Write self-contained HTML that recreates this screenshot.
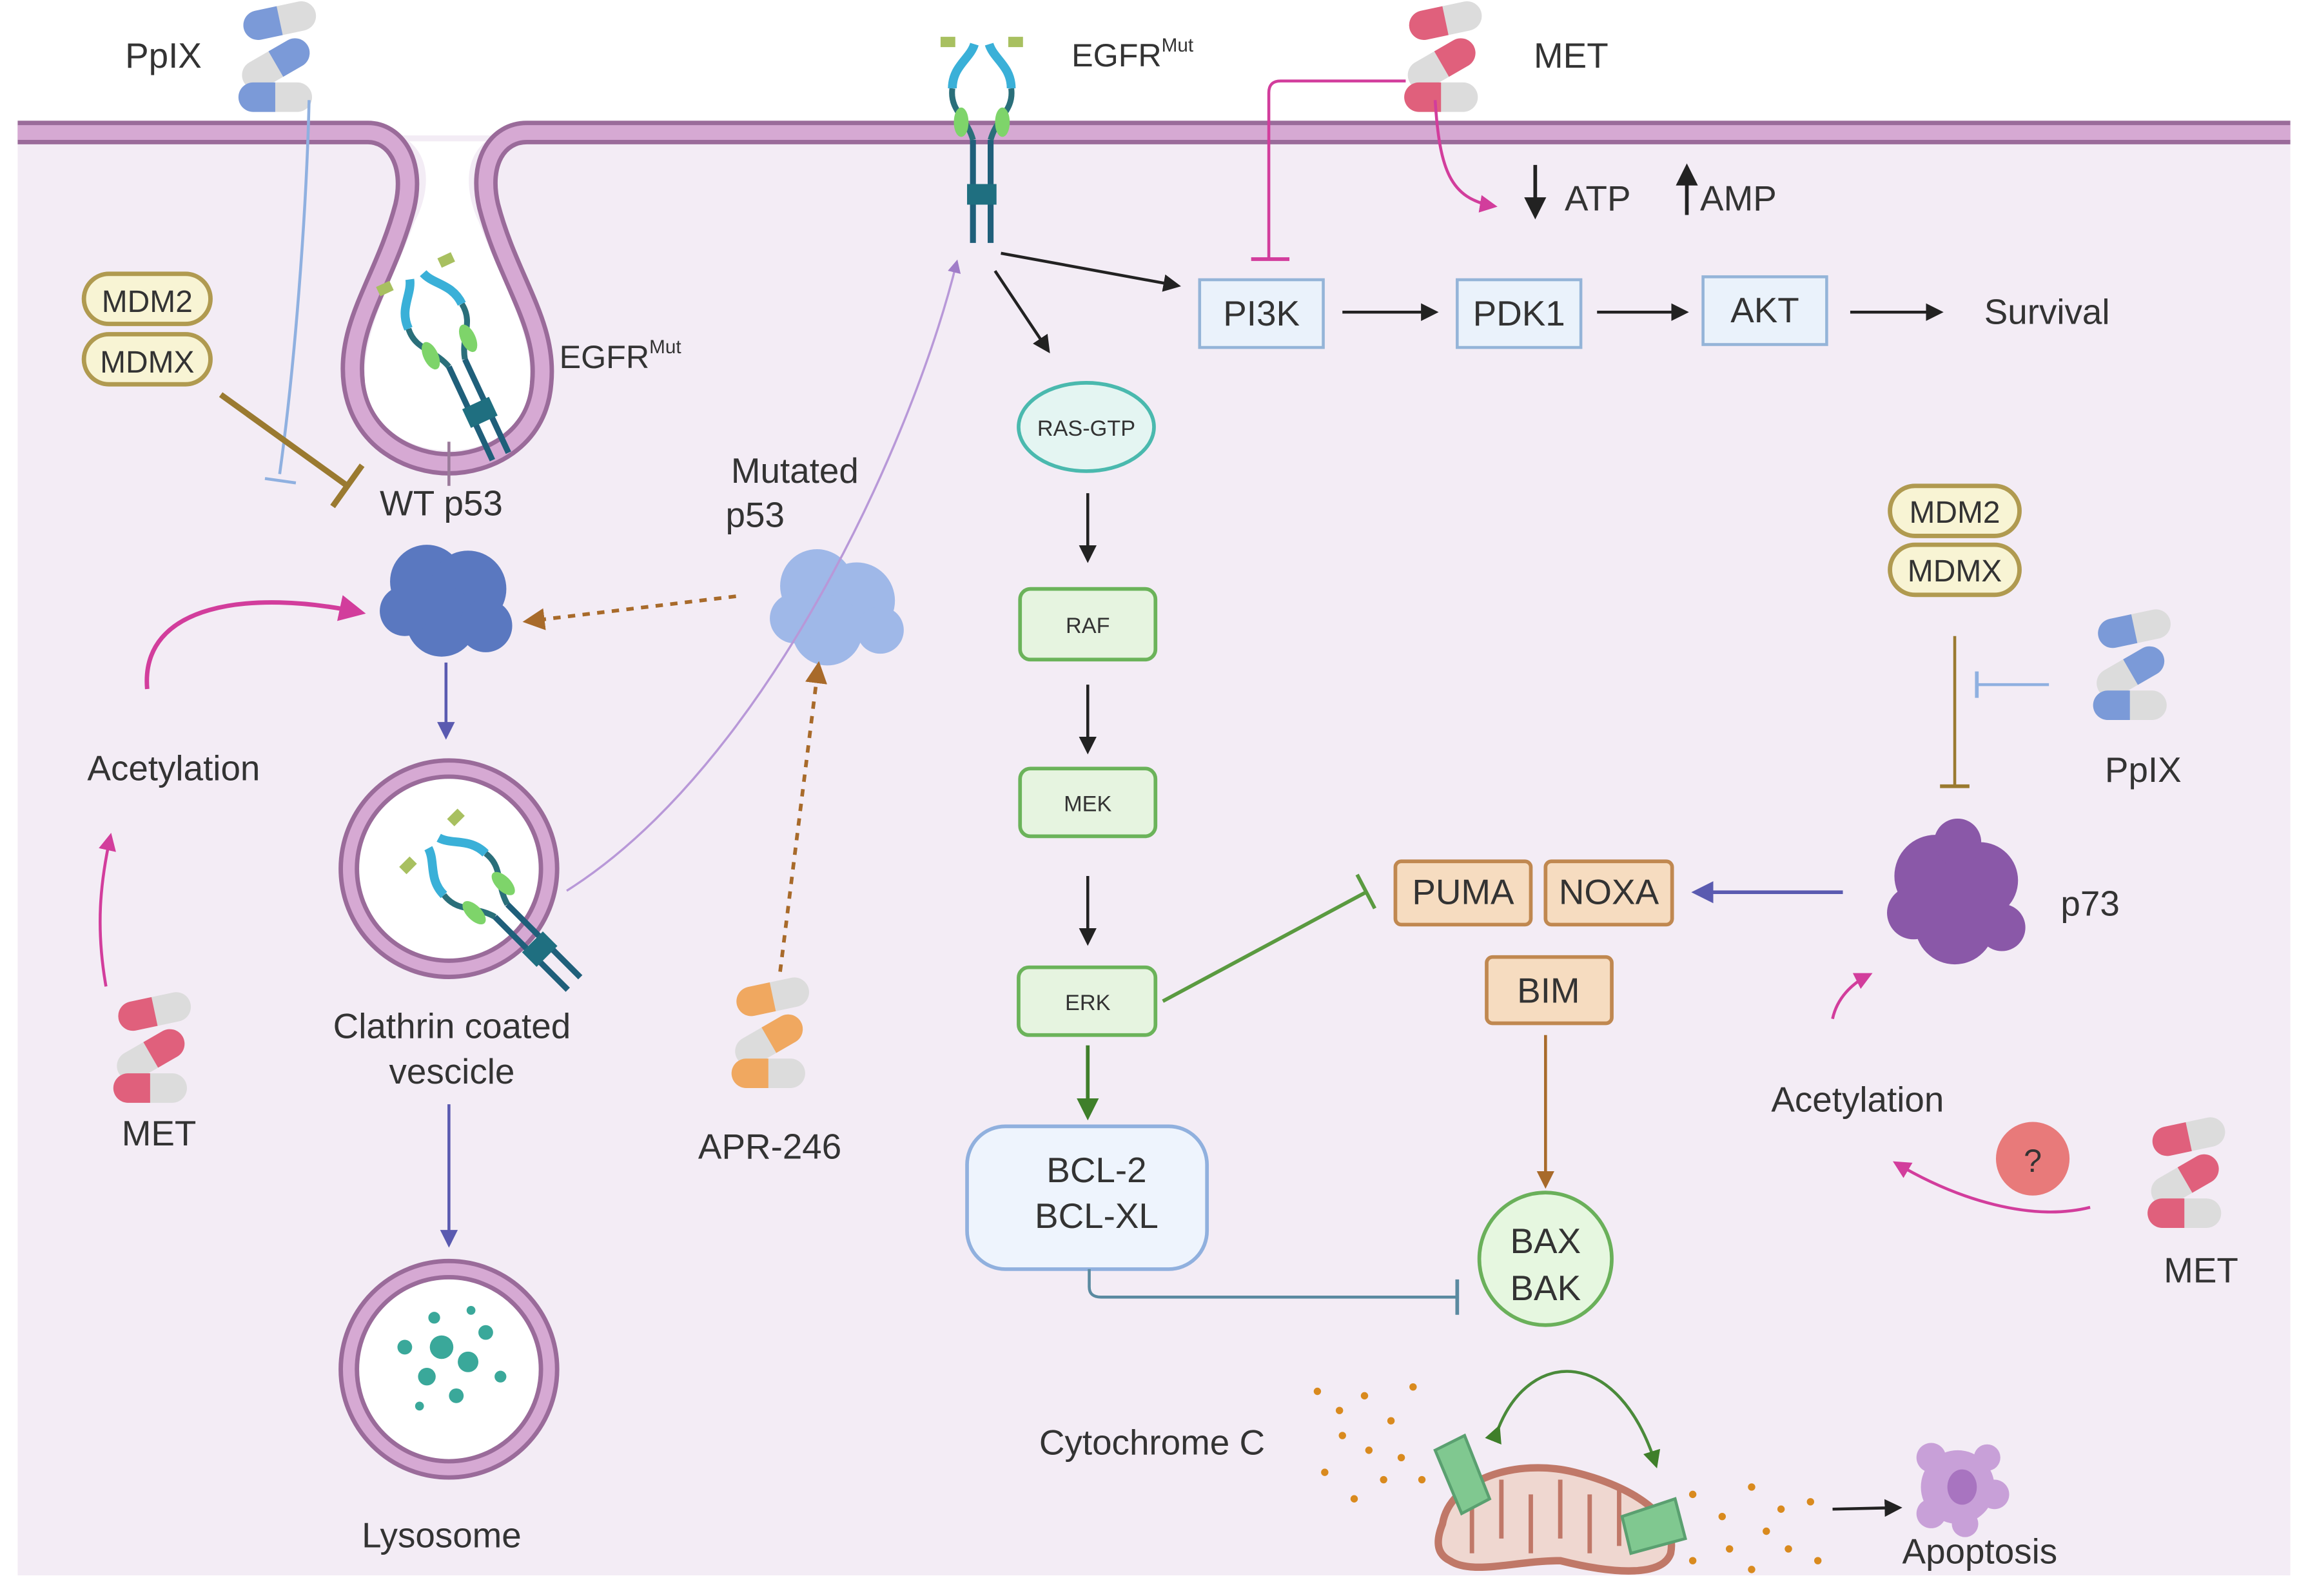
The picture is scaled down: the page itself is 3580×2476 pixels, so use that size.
<!DOCTYPE html>
<html><head><meta charset="utf-8"><style>
html,body{margin:0;padding:0;background:#fff}
svg{display:block}
text{font-family:"Liberation Sans",sans-serif;fill:#333}
</style></head><body>
<svg width="3580" height="2476" viewBox="0 0 1568 1084" preserveAspectRatio="none" xmlns="http://www.w3.org/2000/svg">
<defs>
<marker id="ak" viewBox="0 0 10 10" refX="8" refY="5" markerWidth="6" markerHeight="6" orient="auto"><path d="M0,0L10,5L0,10z" fill="#222"/></marker>
<marker id="ap" viewBox="0 0 10 10" refX="8" refY="5" markerWidth="6" markerHeight="6" orient="auto"><path d="M0,0L10,5L0,10z" fill="#d23d9c"/></marker>
<marker id="ab" viewBox="0 0 10 10" refX="8" refY="5" markerWidth="6" markerHeight="6" orient="auto"><path d="M0,0L10,5L0,10z" fill="#5a5ab0"/></marker>
<marker id="ag" viewBox="0 0 10 10" refX="8" refY="5" markerWidth="6" markerHeight="6" orient="auto"><path d="M0,0L10,5L0,10z" fill="#3f7f2a"/></marker>
<marker id="ao" viewBox="0 0 10 10" refX="8" refY="5" markerWidth="6" markerHeight="6" orient="auto"><path d="M0,0L10,5L0,10z" fill="#a86a2a"/></marker>
<marker id="av" viewBox="0 0 10 10" refX="8" refY="5" markerWidth="6" markerHeight="6" orient="auto"><path d="M0,0L10,5L0,10z" fill="#a07cc8"/></marker>
<symbol id="cap" viewBox="0 0 50 20" overflow="visible">
<rect x="0" y="0" width="50" height="20" rx="10" fill="#dcdcdc"/>
<path d="M10,0H25V20H10A10,10 0 0 1 10,0z" fill="currentColor"/>
</symbol>
<g id="pills">
<use href="#cap" x="-25" y="-38" width="50" height="20" transform="rotate(-12 0 -28)"/>
<use href="#cap" x="-22" y="-10" width="50" height="20" transform="rotate(-30 0 0) scale(-1 1)" />
<use href="#cap" x="-28" y="14" width="50" height="20"/>
</g>
<g id="receptor">
<path d="M-6,0V-70M6,0V-70" stroke="#1f5f7a" stroke-width="4" fill="none"/>
<rect x="-10" y="-40" width="20" height="14" fill="#1f6f80"/>
<path d="M-6,-70C-10,-85 -22,-90 -20,-105M6,-70C10,-85 22,-90 20,-105" stroke="#2a6f7a" stroke-width="4" fill="none"/>
<ellipse cx="-14" cy="-82" rx="5" ry="10" fill="#7ed46a"/><ellipse cx="14" cy="-82" rx="5" ry="10" fill="#7ed46a"/>
<path d="M-20,-105C-20,-120 -8,-125 -5,-135M20,-105C20,-120 8,-125 5,-135" stroke="#3ab0d8" stroke-width="6" fill="none"/>
<rect x="-28" y="-140" width="10" height="7" fill="#a8c060"/><rect x="18" y="-140" width="10" height="7" fill="#a8c060"/>
</g>
</defs>
<rect width="1568" height="1084" fill="#fff"/>
<!-- cell -->
<rect x="12" y="92" width="1544" height="978" fill="#f3ecf5"/>
<!-- membrane -->
<path d="M12,90H250C268,90 282,110 275,140C262,190 235,220 240,260C245,300 280,315 305,315C330,315 365,300 368,260C372,220 345,190 332,140C325,110 338,90 358,90H1556" fill="none" stroke="#9a6b9a" stroke-width="16"/>
<path d="M12,90H250C268,90 282,110 275,140C262,190 235,220 240,260C245,300 280,315 305,315C330,315 365,300 368,260C372,220 345,190 332,140C325,110 338,90 358,90H1556" fill="none" stroke="#d6a9d3" stroke-width="10"/>
<path d="M278,96C295,110 290,135 282,150C265,195 246,225 248,260C252,292 280,306 305,306C330,306 358,292 360,260C362,225 342,195 325,150C318,135 313,110 330,96z" fill="#fff"/>
<!-- top left -->
<text x="85" y="46" font-size="24">PpIX</text>
<use href="#pills" x="190" y="42" color="#7b9ad8"/>
<path d="M210,68C208,150 200,250 190,322" stroke="#8fb0e0" stroke-width="2" fill="none"/>
<path d="M180,325L201,328" stroke="#8fb0e0" stroke-width="2"/>
<rect x="57" y="186" width="86" height="34" rx="17" fill="#f8f4d4" stroke="#b09a50" stroke-width="3"/>
<text x="100" y="212" font-size="21" text-anchor="middle">MDM2</text>
<rect x="57" y="227" width="86" height="34" rx="17" fill="#f8f4d4" stroke="#b09a50" stroke-width="3"/>
<text x="100" y="253" font-size="21" text-anchor="middle">MDMX</text>
<path d="M150,268L236,330" stroke="#9a7a30" stroke-width="4"/>
<path d="M226,344L246,316" stroke="#9a7a30" stroke-width="4"/>
<g transform="translate(340,310) rotate(-25)"><use href="#receptor"/></g>
<text x="380" y="250" font-size="22">EGFR<tspan font-size="13" dy="-10">Mut</tspan></text>
<line x1="305" y1="300" x2="305" y2="330" stroke="#9a7a9a" stroke-width="2"/>
<text x="258" y="350" font-size="24">WT p53</text>
<g fill="#5a78c0"><circle cx="290" cy="395" r="25"/><circle cx="318" cy="400" r="26"/><circle cx="300" cy="422" r="24"/><circle cx="275" cy="415" r="17"/><circle cx="330" cy="425" r="18"/></g>
<line x1="303" y1="450" x2="303" y2="500" stroke="#5a5ab0" stroke-width="2" marker-end="url(#ab)"/>
<path d="M100,468C95,410 170,400 245,416" stroke="#d23d9c" stroke-width="3" fill="none" marker-end="url(#ap)"/>
<text x="118" y="530" font-size="24" text-anchor="middle">Acetylation</text>
<path d="M72,670C65,630 68,600 75,568" stroke="#d23d9c" stroke-width="2" fill="none" marker-end="url(#ap)"/>
<use href="#pills" x="105" y="715" color="#e0607c"/>
<text x="108" y="778" font-size="24" text-anchor="middle">MET</text>
<circle cx="305" cy="590" r="68" fill="#fff" stroke="#9a6b9a" stroke-width="14"/>
<circle cx="305" cy="590" r="68" fill="none" stroke="#d6a9d3" stroke-width="8"/>
<g transform="translate(390,668) rotate(-45)"><use href="#receptor"/></g>
<text x="307" y="705" font-size="24" text-anchor="middle">Clathrin coated</text>
<text x="307" y="736" font-size="24" text-anchor="middle">vescicle</text>
<line x1="305" y1="750" x2="305" y2="845" stroke="#5a5ab0" stroke-width="2" marker-end="url(#ab)"/>
<circle cx="305" cy="930" r="68" fill="#fff" stroke="#9a6b9a" stroke-width="14"/>
<circle cx="305" cy="930" r="68" fill="none" stroke="#d6a9d3" stroke-width="8"/>
<g fill="#3aa89a"><circle cx="300" cy="915" r="8"/><circle cx="318" cy="925" r="7"/><circle cx="290" cy="935" r="6"/><circle cx="330" cy="905" r="5"/><circle cx="275" cy="915" r="5"/><circle cx="310" cy="948" r="5"/><circle cx="340" cy="935" r="4"/><circle cx="285" cy="955" r="3"/><circle cx="295" cy="895" r="4"/><circle cx="320" cy="890" r="3"/></g>
<text x="300" y="1051" font-size="24" text-anchor="middle">Lysosome</text>
<!-- mutated p53 -->
<text x="540" y="328" font-size="24" text-anchor="middle">Mutated</text>
<text x="513" y="358" font-size="24" text-anchor="middle">p53</text>
<g fill="#9fb8e8"><circle cx="555" cy="398" r="25"/><circle cx="582" cy="408" r="26"/><circle cx="562" cy="428" r="24"/><circle cx="540" cy="420" r="17"/><circle cx="598" cy="428" r="16"/></g>
<line x1="500" y1="405" x2="358" y2="422" stroke="#a86a2a" stroke-width="2.5" stroke-dasharray="5,5" marker-end="url(#ao)"/>
<line x1="530" y1="660" x2="556" y2="452" stroke="#a86a2a" stroke-width="2.5" stroke-dasharray="5,5" marker-end="url(#ao)"/>
<use href="#pills" x="525" y="705" color="#f0a860"/>
<text x="523" y="787" font-size="24" text-anchor="middle">APR-246</text>
<path d="M385,605C520,520 620,300 650,178" stroke="#b898d8" stroke-width="1.5" fill="none" marker-end="url(#av)"/>
<!-- EGFR top -->
<g transform="translate(667,165)"><use href="#receptor"/></g>
<text x="728" y="45" font-size="22">EGFR<tspan font-size="13" dy="-10">Mut</tspan></text>
<use href="#pills" x="982" y="42" color="#e0607c"/>
<text x="1042" y="46" font-size="24">MET</text>
<path d="M955,55H870Q862,55 862,63V175" stroke="#d23d9c" stroke-width="2" fill="none"/>
<path d="M850,176H876" stroke="#d23d9c" stroke-width="2.5"/>
<path d="M975,68C978,115 985,135 1015,140" stroke="#d23d9c" stroke-width="2" fill="none" marker-end="url(#ap)"/>
<line x1="1043" y1="112" x2="1043" y2="146" stroke="#222" stroke-width="2.5" marker-end="url(#ak)"/>
<text x="1063" y="143" font-size="24">ATP</text>
<line x1="1146" y1="146" x2="1146" y2="114" stroke="#222" stroke-width="2.5" marker-end="url(#ak)"/>
<text x="1155" y="143" font-size="24">AMP</text>
<line x1="680" y1="172" x2="800" y2="194" stroke="#222" stroke-width="2" marker-end="url(#ak)"/>
<line x1="676" y1="184" x2="712" y2="238" stroke="#222" stroke-width="2" marker-end="url(#ak)"/>
<g fill="#eaf2fb" stroke="#94b4d8" stroke-width="2">
<rect x="815" y="190" width="84" height="46"/><rect x="990" y="190" width="84" height="46"/><rect x="1157" y="188" width="84" height="46"/></g>
<text x="857" y="221" font-size="24" text-anchor="middle">PI3K</text>
<text x="1032" y="221" font-size="24" text-anchor="middle">PDK1</text>
<text x="1199" y="219" font-size="24" text-anchor="middle">AKT</text>
<g stroke="#222" stroke-width="2"><line x1="912" y1="212" x2="975" y2="212" marker-end="url(#ak)"/><line x1="1085" y1="212" x2="1145" y2="212" marker-end="url(#ak)"/><line x1="1257" y1="212" x2="1318" y2="212" marker-end="url(#ak)"/></g>
<text x="1348" y="220" font-size="24">Survival</text>
<!-- MAPK -->
<ellipse cx="738" cy="290" rx="46" ry="30" fill="#e4f5f2" stroke="#4ab9ae" stroke-width="2.5"/>
<text x="738" y="296" font-size="15" text-anchor="middle" fill="#2a6a64">RAS-GTP</text>
<g fill="#e6f4e0" stroke="#6bb35a" stroke-width="2.5">
<rect x="693" y="400" width="92" height="48" rx="7"/><rect x="693" y="522" width="92" height="46" rx="7"/><rect x="692" y="657" width="93" height="46" rx="7"/></g>
<text x="739" y="430" font-size="15" text-anchor="middle">RAF</text>
<text x="739" y="551" font-size="15" text-anchor="middle">MEK</text>
<text x="739" y="686" font-size="15" text-anchor="middle">ERK</text>
<g stroke="#222" stroke-width="2"><line x1="739" y1="335" x2="739" y2="380" marker-end="url(#ak)"/><line x1="739" y1="465" x2="739" y2="510" marker-end="url(#ak)"/><line x1="739" y1="595" x2="739" y2="640" marker-end="url(#ak)"/></g>
<line x1="739" y1="710" x2="739" y2="758" stroke="#3f7f2a" stroke-width="2.5" marker-end="url(#ag)"/>
<path d="M790,680L928,606" stroke="#5a9a40" stroke-width="2.5"/>
<path d="M922,594L934,617" stroke="#5a9a40" stroke-width="2.5"/>
<rect x="657" y="765" width="163" height="97" rx="26" fill="#eef4fd" stroke="#90b0de" stroke-width="2.5"/>
<text x="745" y="803" font-size="24" text-anchor="middle">BCL-2</text>
<text x="745" y="834" font-size="24" text-anchor="middle">BCL-XL</text>
<path d="M740,862V874Q740,881 748,881H990" stroke="#5a8aa0" stroke-width="2" fill="none"/>
<path d="M990,869V893" stroke="#5a8aa0" stroke-width="2.5"/>
<g fill="#f6dcc0" stroke="#c08850" stroke-width="2.5">
<rect x="948" y="585" width="92" height="43" rx="4"/><rect x="1050" y="585" width="86" height="43" rx="4"/><rect x="1010" y="650" width="85" height="45" rx="4"/></g>
<text x="994" y="614" font-size="24" text-anchor="middle">PUMA</text>
<text x="1093" y="614" font-size="24" text-anchor="middle">NOXA</text>
<text x="1052" y="681" font-size="24" text-anchor="middle">BIM</text>
<line x1="1050" y1="703" x2="1050" y2="805" stroke="#a86a2a" stroke-width="2" marker-end="url(#ao)"/>
<circle cx="1050" cy="855" r="45" fill="#e6f7e0" stroke="#6ab05a" stroke-width="2.5"/>
<text x="1050" y="851" font-size="24" text-anchor="middle">BAX</text>
<text x="1050" y="883" font-size="24" text-anchor="middle">BAK</text>
<!-- p73 side -->
<rect x="1284" y="330" width="88" height="34" rx="17" fill="#f8f4d4" stroke="#b09a50" stroke-width="3"/>
<text x="1328" y="355" font-size="21" text-anchor="middle">MDM2</text>
<rect x="1284" y="370" width="88" height="34" rx="17" fill="#f8f4d4" stroke="#b09a50" stroke-width="3"/>
<text x="1328" y="395" font-size="21" text-anchor="middle">MDMX</text>
<line x1="1328" y1="432" x2="1328" y2="533" stroke="#9a7a30" stroke-width="2"/>
<line x1="1318" y1="534" x2="1338" y2="534" stroke="#9a7a30" stroke-width="2.5"/>
<line x1="1392" y1="465" x2="1343" y2="465" stroke="#8fb0e0" stroke-width="2"/>
<line x1="1343" y1="456" x2="1343" y2="474" stroke="#8fb0e0" stroke-width="2.5"/>
<use href="#pills" x="1450" y="455" color="#7b9ad8"/>
<text x="1430" y="531" font-size="24">PpIX</text>
<g fill="#8a58a8"><circle cx="1315" cy="595" r="28"/><circle cx="1345" cy="598" r="26"/><circle cx="1328" cy="628" r="27"/><circle cx="1300" cy="620" r="18"/><circle cx="1360" cy="630" r="16"/><circle cx="1330" cy="572" r="16"/></g>
<text x="1400" y="622" font-size="24">p73</text>
<line x1="1252" y1="606" x2="1152" y2="606" stroke="#5a5ab0" stroke-width="2.5" marker-end="url(#ab)"/>
<path d="M1245,692C1248,678 1258,668 1270,662" stroke="#d23d9c" stroke-width="2" fill="none" marker-end="url(#ap)"/>
<text x="1262" y="755" font-size="24" text-anchor="middle">Acetylation</text>
<path d="M1420,820C1380,830 1330,815 1288,790" stroke="#d23d9c" stroke-width="2" fill="none" marker-end="url(#ap)"/>
<circle cx="1381" cy="787" r="25" fill="#e87a7a"/>
<text x="1381" y="796" font-size="22" text-anchor="middle" fill="#fff">?</text>
<use href="#pills" x="1487" y="800" color="#e0607c"/>
<text x="1470" y="871" font-size="24">MET</text>
<!-- mitochondria -->
<text x="706" y="988" font-size="24">Cytochrome C</text>
<g fill="#d98a1e">
<circle cx="895" cy="945" r="2.5"/><circle cx="910" cy="958" r="2.5"/><circle cx="927" cy="948" r="2.5"/><circle cx="945" cy="965" r="2.5"/><circle cx="960" cy="942" r="2.5"/><circle cx="912" cy="975" r="2.5"/><circle cx="930" cy="985" r="2.5"/><circle cx="952" cy="990" r="2.5"/><circle cx="966" cy="1005" r="2.5"/><circle cx="940" cy="1005" r="2.5"/><circle cx="900" cy="1000" r="2.5"/><circle cx="920" cy="1018" r="2.5"/>
<circle cx="1150" cy="1015" r="2.5"/><circle cx="1170" cy="1030" r="2.5"/><circle cx="1190" cy="1010" r="2.5"/><circle cx="1210" cy="1025" r="2.5"/><circle cx="1230" cy="1020" r="2.5"/><circle cx="1200" cy="1040" r="2.5"/><circle cx="1175" cy="1052" r="2.5"/><circle cx="1215" cy="1052" r="2.5"/><circle cx="1150" cy="1060" r="2.5"/><circle cx="1235" cy="1060" r="2.5"/><circle cx="1190" cy="1066" r="2.5"/>
</g>
<path d="M980,1035C985,1005 1030,990 1070,1000C1110,1010 1140,1030 1135,1055C1130,1070 1100,1070 1060,1060C1030,1060 1000,1070 985,1060C975,1055 976,1045 980,1035z" fill="#efd7d0" stroke="#c07868" stroke-width="5"/>
<g stroke="#c07868" stroke-width="3"><line x1="1000" y1="1015" x2="1000" y2="1055"/><line x1="1020" y1="1005" x2="1020" y2="1045"/><line x1="1040" y1="1015" x2="1040" y2="1055"/><line x1="1060" y1="1005" x2="1060" y2="1045"/><line x1="1080" y1="1015" x2="1080" y2="1055"/><line x1="1100" y1="1010" x2="1100" y2="1050"/></g>
<path d="M975,985L995,975L1012,1018L993,1028z" fill="#80c890" stroke="#5aa070" stroke-width="2"/>
<path d="M1102,1030L1138,1018L1145,1045L1108,1055z" fill="#80c890" stroke="#5aa070" stroke-width="2"/>
<path d="M1018,970C1040,915 1100,915 1125,995" stroke="#4a8a3a" stroke-width="2" fill="none" marker-start="url(#ag)" marker-end="url(#ag)"/>
<line x1="1245" y1="1025" x2="1290" y2="1024" stroke="#222" stroke-width="2" marker-end="url(#ak)"/>
<g fill="#c8a0d8"><circle cx="1330" cy="1010" r="25"/><circle cx="1312" cy="990" r="10"/><circle cx="1350" cy="990" r="9"/><circle cx="1355" cy="1015" r="10"/><circle cx="1312" cy="1028" r="10"/><circle cx="1335" cy="1035" r="9"/></g>
<ellipse cx="1333" cy="1010" rx="10" ry="12" fill="#a874c0"/>
<text x="1345" y="1062" font-size="24" text-anchor="middle">Apoptosis</text>
</svg>
</body></html>
